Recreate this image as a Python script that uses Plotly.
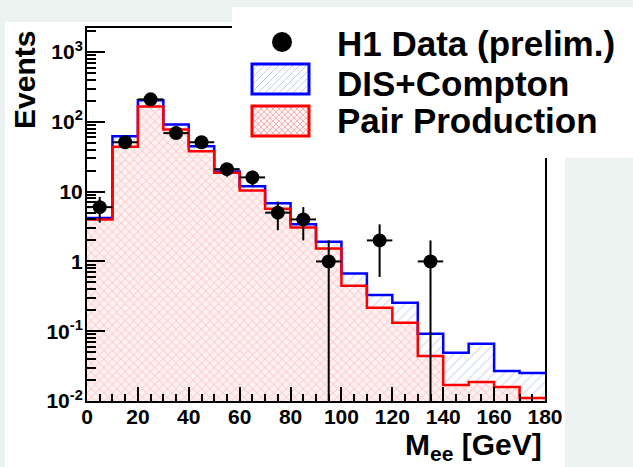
"""H1 di-electron invariant mass spectrum, data vs. MC (log scale)."""
import plotly.graph_objects as go

# bins of M_ee in GeV
bin_edges = [0, 10, 20, 30, 40, 50, 60, 70, 80, 90, 100, 110, 120, 130, 140, 150, 160, 170, 180]
bin_centers = [5, 15, 25, 35, 45, 55, 65, 75, 85, 95, 105, 115, 125, 135, 145, 155, 165, 175]

# stacked MC: total (pair production + DIS + Compton) and pair production alone
total_mc = [4.2, 62, 204, 92, 44.7, 19.5, 11.9, 6.8, 3.4, 1.92, 0.67, 0.33, 0.256, 0.092, 0.049, 0.066, 0.027, 0.0252]
pair_prod = [4.0, 44, 166, 78, 38, 18.7, 10.4, 5.7, 3.06, 1.53, 0.45, 0.217, 0.132, 0.044, 0.017, 0.0187, 0.0159, 0.011]

# H1 data points
data_x = [5, 15, 25, 35, 45, 55, 65, 75, 85, 95, 115, 135]
data_y = [6, 51, 210, 69, 51, 21, 16, 5, 4, 1, 2, 1]
data_err_up = [2.4, 7.1, 14.5, 8.3, 7.1, 4.6, 4.0, 2.2, 2.0, 1.0, 1.4, 1.0]
data_err_down = [2.4, 7.1, 14.5, 8.3, 7.1, 4.6, 4.0, 2.2, 2.0, 0.999, 1.4, 0.999]

y_tickvals = [0.01, 0.1, 1, 10, 100, 1000]
y_ticktext = ["10<sup>-2</sup>", "10<sup>-1</sup>", "1", "10", "10<sup>2</sup>", "10<sup>3</sup>"]

FONT = "Liberation Sans, Arial, sans-serif"

fig = go.Figure()

# hatched fills
fig.add_trace(go.Bar(
    x=bin_centers, y=total_mc, width=10,
    marker=dict(color="white", line=dict(width=0),
                pattern=dict(shape="/", fgcolor="#b4bdf0", bgcolor="white", size=7, solidity=0.2)),
))
fig.add_trace(go.Bar(
    x=bin_centers, y=pair_prod, width=10,
    marker=dict(color="white", line=dict(width=0),
                pattern=dict(shape="x", fgcolor="#f3aaaa", bgcolor="#fff2f2", size=6, solidity=0.3)),
))

# histogram outlines
fig.add_trace(go.Scatter(
    x=bin_edges, y=total_mc + [total_mc[-1]], mode="lines",
    line=dict(color="#0000ff", width=2.5, shape="hv"),
))
fig.add_trace(go.Scatter(
    x=bin_edges, y=pair_prod + [pair_prod[-1]], mode="lines",
    line=dict(color="#ff0000", width=2.5, shape="hv"),
))

# data
fig.add_trace(go.Scatter(
    x=data_x, y=data_y, mode="markers",
    marker=dict(color="black", size=14, symbol="circle"),
    error_x=dict(type="constant", value=5, thickness=2, width=0, color="black"),
    error_y=dict(type="data", array=data_err_up, arrayminus=data_err_down,
                 thickness=2, width=0, color="black"),
))


# pixel helpers for the manual legend / background (plot area 87..545 x 28..401)
def px_x(p):
    return (p - 87) / 458.0


def px_y(p):
    return (401 - p) / 373.0


def hatch_path(x0, y0, x1, y1, step, forward=True, back=False):
    """diagonal hatch lines inside a pixel box, as an svg path in paper coords"""
    segs = []
    if forward:  # "/" lines: x + y = c
        c = x0 + y0 + step
        while c < x1 + y1:
            xa, xb = max(x0, c - y1), min(x1, c - y0)
            segs.append(f"M{px_x(xa):.4f},{px_y(c - xa):.4f}L{px_x(xb):.4f},{px_y(c - xb):.4f}")
            c += step
    if back:  # "\" lines: x - y = c
        c = x0 - y1 + step
        while c < x1 - y0:
            xa, xb = max(x0, c + y0), min(x1, c + y1)
            segs.append(f"M{px_x(xa):.4f},{px_y(xa - c):.4f}L{px_x(xb):.4f},{px_y(xb - c):.4f}")
            c += step
    return " ".join(segs)


shapes = [
    # white canvas behind the pad
    dict(type="rect", xref="paper", yref="paper", layer="below",
         x0=px_x(5), x1=px_x(565), y0=px_y(467), y1=px_y(22),
         fillcolor="white", line=dict(width=0)),
    # legend box
    dict(type="rect", xref="paper", yref="paper", layer="above",
         x0=px_x(232), x1=px_x(640), y0=px_y(158), y1=px_y(7),
         fillcolor="white", line=dict(width=0)),
    dict(type="circle", xref="paper", yref="paper", layer="above",
         x0=px_x(272), x1=px_x(292), y0=px_y(52), y1=px_y(32),
         fillcolor="black", line=dict(width=0)),
    dict(type="path", xref="paper", yref="paper", layer="above",
         path=hatch_path(252, 64, 309, 94, 7), line=dict(color="#c4cbf2", width=1)),
    dict(type="rect", xref="paper", yref="paper", layer="above",
         x0=px_x(252), x1=px_x(309), y0=px_y(94), y1=px_y(64),
         line=dict(color="#0000ff", width=3)),
    dict(type="rect", xref="paper", yref="paper", layer="above",
         x0=px_x(252), x1=px_x(309), y0=px_y(136), y1=px_y(106),
         fillcolor="#fff2f2", line=dict(width=0)),
    dict(type="path", xref="paper", yref="paper", layer="above",
         path=hatch_path(252, 106, 309, 136, 6, back=True), line=dict(color="#f3b4b4", width=1)),
    dict(type="rect", xref="paper", yref="paper", layer="above",
         x0=px_x(252), x1=px_x(309), y0=px_y(136), y1=px_y(106),
         line=dict(color="#ff0000", width=3)),
]

legend_font = dict(family=FONT, size=35, color="black", weight="bold")
annotations = [
    dict(text="H1 Data (prelim.)", x=px_x(335), y=px_y(43)),
    dict(text="DIS+Compton", x=px_x(335), y=px_y(83)),
    dict(text="Pair Production", x=px_x(335), y=px_y(120)),
]
for a in annotations:
    a.update(xref="paper", yref="paper", xanchor="left", yanchor="middle",
             showarrow=False, font=legend_font)

annotations.append(dict(
    text="Events", x=px_x(24), y=px_y(29), xref="paper", yref="paper",
    xanchor="center", yanchor="top", textangle=-90, showarrow=False,
    font=dict(family=FONT, size=30, color="black", weight="bold"),
))
annotations.append(dict(
    text="M<sub>ee</sub> [GeV]", x=px_x(544), y=px_y(446), xref="paper", yref="paper",
    xanchor="right", yanchor="middle", showarrow=False,
    font=dict(family=FONT, size=30, color="black", weight="bold"),
))

tick_font = dict(family=FONT, size=21, color="black", weight="bold")

fig.update_layout(
    width=633,
    height=467,
    margin=dict(l=87, r=88, t=28, b=66),
    paper_bgcolor="#ebf2f0",
    plot_bgcolor="white",
    barmode="overlay",
    bargap=0,
    showlegend=False,
    shapes=shapes,
    annotations=annotations,
    xaxis=dict(
        range=[0, 180], dtick=20, tick0=0,
        ticks="inside", ticklen=14, tickwidth=2, tickcolor="black",
        minor=dict(dtick=5, ticks="inside", ticklen=7, tickwidth=2, tickcolor="black"),
        showline=True, linecolor="black", linewidth=2, mirror=True,
        showgrid=False, zeroline=False, tickfont=tick_font, ticklabelstandoff=-4,
    ),
    yaxis=dict(
        type="log", range=[-2, 3.345],
        tickvals=y_tickvals, ticktext=y_ticktext,
        ticks="inside", ticklen=18, tickwidth=2, tickcolor="black",
        minor=dict(dtick="D1", ticks="inside", ticklen=9, tickwidth=2, tickcolor="black"),
        showline=True, linecolor="black", linewidth=2, mirror=True,
        showgrid=False, zeroline=False, tickfont=tick_font, ticklabelstandoff=-2,
    ),
)

# drop the default page margin so the figure fills the window exactly
fig.write_html("out.html", config={"displayModeBar": False},
               post_script="document.body.style.margin='0';")
